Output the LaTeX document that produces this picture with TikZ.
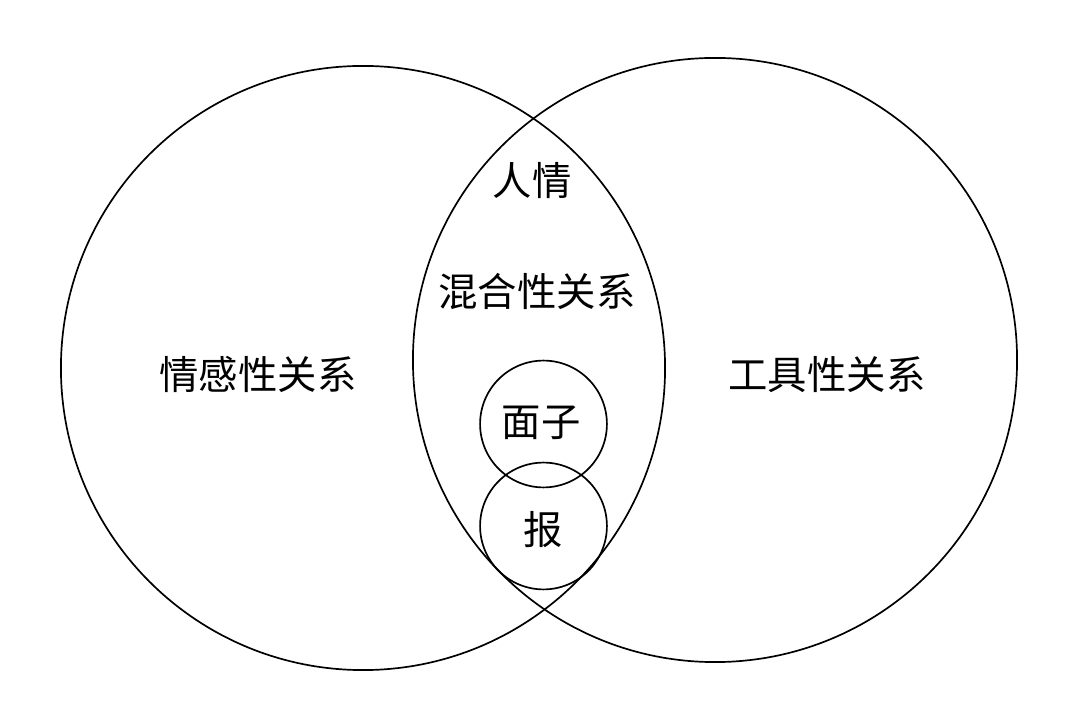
\documentclass[tikz,border=0pt]{standalone}
\usepackage{fontspec}
\setmainfont{Noto Sans CJK SC}
\usepackage{tikz}

\begin{document}
\begin{tikzpicture}[x=0.025cm,y=-0.025cm,
  ring/.style={circle,draw,line width=1.2pt,inner sep=0pt},
  big ring/.style={ring,minimum size=15.1cm},
  small ring/.style={ring,minimum size=3.17cm},
  every node/.style={align=center,font=\fontsize{28}{31}\selectfont}]
\useasboundingbox[fill=white] (0,0) rectangle (1080,720);
% outer circles
\node[big ring] (emo) at (363,368) {};
\node[big ring] (tool) at (715,360) {};
% inner circles
\node[small ring] (face) at (543.5,424) {};
\node[small ring] (bao) at (543.5,526) {};
% labels
\node (emolabel) at (258,374) {情感性关系};
\node (toollabel) at (827,375) {工具性关系};
\node (renqing) at (532,181) {人情};
\node (mixed) at (537,292) {混合性关系};
\node (facelabel) at (541,423) {面子};
\node (baolabel) at (543,530) {报};
\end{tikzpicture}
\end{document}
